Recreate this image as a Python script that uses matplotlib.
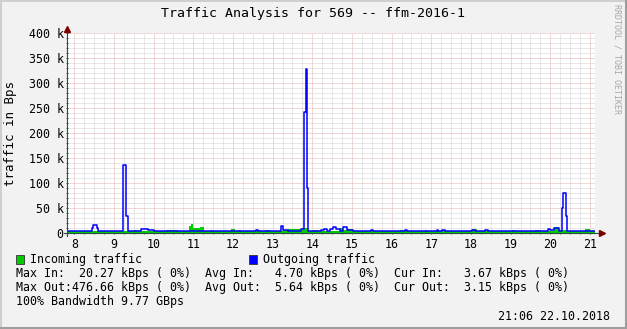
import matplotlib
matplotlib.use("Agg")
import matplotlib.pyplot as plt
from matplotlib.lines import Line2D
from matplotlib.patches import Rectangle
from matplotlib.ticker import MultipleLocator, FixedLocator

# sample start times (hours of day) and values in kBps, each held until the next sample
out_t = [7.82, 8.12, 8.22, 8.45, 8.48, 8.57, 8.60, 9.23, 9.30, 9.35, 9.68, 9.86, 10.01,
         12.58, 12.63, 13.21, 13.26, 13.39, 13.72, 13.79, 13.83, 13.86, 13.90, 14.22,
         14.29, 14.37, 14.45, 14.52, 14.60, 14.70, 14.77, 14.87, 15.03, 15.48, 15.53,
         16.34, 16.39, 17.14, 17.17, 17.27, 17.35, 18.03, 18.10, 18.35, 18.43, 19.94,
         19.99, 20.09, 20.22, 20.29, 20.33, 20.39, 20.43, 21.13]
out_v = [3.5, 5, 3.5, 10, 16, 10, 3.5, 137, 35, 3.5, 7.5, 5.5, 3.5,
         6, 3.5, 15, 6, 3.5, 9, 243, 328, 90, 3.5, 6,
         8, 5, 9, 12, 8, 3.5, 12, 7, 3.5, 6, 3.5,
         6, 3.5, 5.5, 3.5, 5.5, 3.5, 7, 3.5, 6, 3.5, 9,
         6, 10, 5, 50, 80, 34, 3.5, 3.5]

in_t = [7.82, 9.51, 9.61, 10.31, 10.61, 10.89, 10.94, 10.99, 11.17, 11.27, 11.45, 11.50,
        11.95, 12.05, 12.13, 12.20, 12.81, 12.93, 13.26, 13.39, 13.75, 13.90, 14.02,
        14.14, 14.70, 14.77, 14.87, 15.03, 16.21, 16.29, 16.84, 16.89, 17.27, 17.35,
        18.03, 18.15, 19.03, 19.11, 19.61, 19.74, 20.09, 20.22, 20.43, 20.87, 21.00, 21.13]
in_v = [3, 6, 3, 5, 3, 13, 17, 10, 12, 4, 5, 3,
        7, 3, 5, 3, 6, 3, 5, 7, 9, 4, 6,
        3, 10, 5, 8, 3, 5, 3, 6, 3, 6, 3,
        7, 3, 6, 3, 5, 3, 12, 5, 3, 8, 4, 4]

hour_ticks = list(range(8, 22))
y_ticks = [0, 50, 100, 150, 200, 250, 300, 350, 400]
y_labels = ["0"] + [f"{v} k" for v in y_ticks[1:]]

title = "Traffic Analysis for 569 -- ffm-2016-1"
legend_names = ["Incoming traffic", "Outgoing traffic"]
stat_rows = [
    "Max In:  20.27 kBps ( 0%)  Avg In:   4.70 kBps ( 0%)  Cur In:   3.67 kBps ( 0%)",
    "Max Out:476.66 kBps ( 0%)  Avg Out:  5.64 kBps ( 0%)  Cur Out:  3.15 kBps ( 0%)",
    "100% Bandwidth 9.77 GBps",
]
stamp = "21:06 22.10.2018"

# -----------------------------
# styling
# -----------------------------
W, H = 627, 329
MONO = "DejaVu Sans Mono"
BG = "#F2F2F2"
GREEN = "#00CC00"
BLUE = "#0000FF"
AXIS = "#2C4D43"
ARROW = "#7F0000"
MGRID = "#E6B0B0"
GRID = "#D0D0D0"


def fx(px):
    return px / W


def fy(py):
    return 1 - py / H


fig = plt.figure(figsize=(W / 100, H / 100), dpi=100, facecolor=BG)
ax = fig.add_axes([fx(67), fy(233), (595 - 67) / W, 200 / H])
ax.set_facecolor("white")

ax.set_xlim(7.816, 21.126)
ax.set_ylim(0, 400)

ax.xaxis.set_major_locator(FixedLocator(hour_ticks))
ax.xaxis.set_minor_locator(MultipleLocator(0.25))
ax.yaxis.set_major_locator(FixedLocator(y_ticks))
ax.yaxis.set_minor_locator(MultipleLocator(10))
ax.set_xticklabels([str(h) for h in hour_ticks])
ax.set_yticklabels(y_labels)

ax.grid(which="minor", color=GRID, lw=0.72, linestyle=(0, (1, 1)), zorder=0)
ax.grid(which="major", color=MGRID, lw=0.72, linestyle=(0, (1, 1)), zorder=0)
ax.set_axisbelow(True)

for side in ax.spines.values():
    side.set_visible(False)

ax.tick_params(axis="both", which="major", length=2, width=0.7, color=AXIS,
               direction="inout", labelsize=8.4, labelcolor="black")
ax.tick_params(axis="both", which="minor", length=1, width=0.6, color=AXIS,
               direction="inout")
ax.tick_params(axis="x", pad=2.5)
ax.tick_params(axis="y", pad=1.5)
for lab in ax.get_xticklabels() + ax.get_yticklabels():
    lab.set_family(MONO)

# data
ax.fill_between(in_t, in_v, step="post", color=GREEN, lw=0, zorder=2)
ax.step(out_t, out_v, where="post", color=BLUE, lw=1.1, zorder=3)

# axis lines with arrows
ax.plot([-0.006, 1.012], [0, 0], color=AXIS, lw=0.8, transform=ax.transAxes,
        clip_on=False, zorder=4)
ax.plot([0, 0], [-0.015, 1.02], color=AXIS, lw=0.8, transform=ax.transAxes,
        clip_on=False, zorder=4)
ax.plot([1.013], [0], marker=">", ms=4, color=ARROW, transform=ax.transAxes,
        clip_on=False, zorder=5)
ax.plot([0], [1.022], marker="^", ms=4, color=ARROW, transform=ax.transAxes,
        clip_on=False, zorder=5)

# texts
fig.text(fx(313), fy(13), title, ha="center", va="center", family=MONO, fontsize=9.5)
fig.text(fx(11), fy(133), "traffic in Bps", rotation=90, ha="center", va="center",
         family=MONO, fontsize=9)
fig.text(fx(617), fy(4), "RRDTOOL / TOBI OETIKER", rotation=270, ha="center", va="top",
         family=MONO, fontsize=6, color="#A8A8A8")

# legend
for px, name, col in [(16, legend_names[0], GREEN), (249, legend_names[1], BLUE)]:
    fig.add_artist(Rectangle((fx(px), fy(264)), 8 / W, 9 / H, transform=fig.transFigure,
                             facecolor=col, edgecolor="#333333", lw=0.6))
    fig.text(fx(px + 14), fy(259.5), name, ha="left", va="center", family=MONO,
             fontsize=8.4)

for row, py in zip(stat_rows, [273.5, 288, 302]):
    fig.text(fx(16), fy(py), row, ha="left", va="center", family=MONO, fontsize=8.4)

fig.text(fx(610), fy(316), stamp, ha="right", va="center", family=MONO, fontsize=8.4)

# frame shading
fig.add_artist(Line2D([0, 1], [1 - 1 / H, 1 - 1 / H], transform=fig.transFigure,
                      color="#CFCFCF", lw=1.4))
fig.add_artist(Line2D([1 / W, 1 / W], [0, 1], transform=fig.transFigure,
                      color="#CFCFCF", lw=1.4))
fig.add_artist(Line2D([0, 1], [1 / H, 1 / H], transform=fig.transFigure,
                      color="#9E9E9E", lw=2.2))
fig.add_artist(Line2D([1 - 1 / W, 1 - 1 / W], [0, 1], transform=fig.transFigure,
                      color="#9E9E9E", lw=2.2))

fig.savefig("out.png", dpi=100, facecolor=BG)
